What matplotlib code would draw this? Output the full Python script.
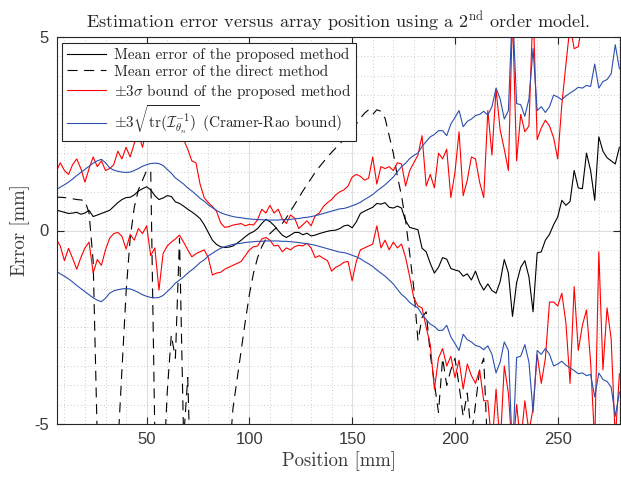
import numpy as np
import matplotlib.pyplot as plt
from matplotlib.ticker import MultipleLocator
from matplotlib import font_manager as fm

plt.rcParams["mathtext.fontset"] = "cm"
plt.rcParams["axes.unicode_minus"] = False
plt.rcParams["font.family"] = ["Liberation Sans", "DejaVu Sans"]

# sampling grid along the array [mm]
position = np.arange(6, 281, 2)

mean_proposed = [
    0.53, 0.50, 0.47, 0.44, 0.45, 0.47, 0.42, 0.45, 0.52, 0.36,
    0.40, 0.44, 0.48, 0.52, 0.62, 0.72, 0.80, 0.85, 0.86, 0.92,
    1.02, 1.08, 1.13, 1.05, 0.90, 0.80, 0.84, 0.90, 0.88, 0.74,
    0.70, 0.63, 0.55, 0.48, 0.40, 0.31, 0.15, -0.05, -0.25, -0.36,
    -0.42, -0.44, -0.43, -0.40, -0.33, -0.25, -0.16, -0.08, -0.03, 0.05,
    0.18, 0.29, 0.23, 0.13, 0.00, -0.12, -0.18, -0.12, -0.05, -0.05,
    -0.11, -0.07, -0.14, -0.12, -0.08, -0.05, -0.02, 0.00, 0.01, 0.05,
    0.12, 0.14, 0.07, 0.22, 0.44, 0.50, 0.55, 0.60, 0.70, 0.68,
    0.72, 0.60, 0.58, 0.63, 0.58, 0.25, 0.08, 0.05, 0.02, -0.46,
    -0.55, -0.85, -1.10, -0.95, -0.70, -0.74, -0.98, -1.02, -1.05, -1.18,
    -1.12, -1.28, -1.05, -1.35, -1.54, -1.38, -1.55, -1.62, -1.32, -0.75,
    -1.10, -2.22, -1.35, -0.95, -0.78, -1.20, -2.10, -0.58, -0.55, -0.25,
    -0.10, 0.15, 0.35, 0.78, 0.65, 0.75, 1.55, 1.10, 1.08, 2.00,
    1.55, 0.78, 2.42, 2.05, 1.88, 1.80, 1.72, 2.15,
]

mean_direct = [
    0.86, 0.86, 0.85, 0.84, 0.82, 0.80, 0.79, 0.77, 0.45, -0.80,
    -5.4, -7.5, -9.0, -9.5, -8.5, -5.6, -3.6, -1.6, -0.2, 0.6,
    1.05, 1.30, 1.55, 1.55, -5.3, -9.0, -6.5, -4.2, -2.7, -3.3,
    -0.2, -5.4, -3.8, -7.5, -9.0, -10.0, -11.0, -11.0, -11.0, -10.0,
    -9.0, -7.5, -6.0, -4.6, -3.85, -3.1, -2.35, -1.65, -1.1, -0.7,
    -0.42, -0.22, -0.08, 0.02, 0.10, 0.18, 0.33, 0.50, 0.67, 0.84,
    1.02, 1.18, 1.34, 1.50, 1.64, 1.77, 1.90, 2.02, 2.13, 2.24,
    2.35, 2.46, 2.60, 2.75, 2.90, 3.03, 3.12, 3.00, 3.12, 3.08,
    2.90, 2.45, 2.00, 1.40, 0.90, 0.25, -0.60, -1.50, -2.85, -2.25,
    -2.10, -3.20, -3.95, -4.70, -3.30, -4.00, -3.60, -3.30, -4.00, -4.80,
    -4.20, -5.30, -4.50, -3.60, -3.30, -5.80, -7.0, -8.1, -8.6, -9.2,
    -9.7, -10.4, -10.9, -11.3, -11.8, -12.5, -12.9, -13.4, -13.8, -14.5,
    -14.9, -15.6, -16.0, -16.4, -17.1, -17.5, -18.0, -18.6, -19.1, -19.5,
    -20.2, -20.6, -21.0, -21.7, -22.1, -22.6, -23.2, -23.7,
]

red_upper = [
    1.52, 1.75, 1.55, 1.45, 1.70, 1.85, 1.60, 1.25, 1.60, 1.90,
    1.65, 1.80, 1.55, 1.60, 1.70, 2.05, 1.85, 2.15, 1.90, 2.25,
    2.50, 2.15, 2.65, 3.10, 2.80, 3.40, 3.05, 3.60, 3.20, 2.75,
    2.95, 2.35, 2.10, 1.80, 1.75, 1.20, 0.85, 0.72, 0.62, 0.50,
    0.20, 0.08, 0.10, 0.14, 0.16, 0.18, 0.12, 0.16, 0.14, 0.28,
    0.55, 0.45, 0.65, 0.45, 0.55, 0.30, 0.18, 0.40, 0.32, 0.05,
    0.15, 0.25, 0.12, 0.38, 0.45, 0.62, 0.72, 0.80, 0.92, 1.00,
    1.05, 1.15, 1.38, 1.45, 1.40, 1.30, 1.35, 1.90, 1.20, 1.65,
    1.60, 1.65, 1.55, 1.75, 1.72, 1.15, 1.55, 1.75, 1.95, 2.45,
    1.15, 1.45, 1.10, 2.00, 1.85, 2.10, 0.85, 1.50, 2.55, 0.90,
    1.30, 1.90, 1.85, 1.25, 0.85, 3.10, 1.95, 3.65, 2.60, 2.10,
    1.55, 5.60, 1.80, 3.00, 2.55, 2.70, 5.80, 2.35, 2.65, 2.85,
    2.70, 2.40, 1.85, 3.25, 4.30, 5.30, 4.70, 4.75, 5.40, 5.80,
    5.50, 6.00, 5.60, 6.20, 5.80, 6.40, 6.00, 6.30,
]

red_lower = [
    -0.22, -0.40, -0.78, -0.46, -0.72, -1.00, -0.70, -0.45, -0.30, -1.10,
    -0.75, -0.90, -0.50, -0.20, -0.08, -0.05, -0.15, -0.48, -0.10, -0.25,
    0.05, -0.08, 0.12, -0.65, -0.45, -1.54, -0.60, -0.40, -0.30, -0.22,
    -0.12, -0.30, -0.50, -0.68, -0.60, -0.55, -0.50, -0.70, -1.15, -1.10,
    -1.08, -1.00, -0.95, -0.90, -0.85, -0.80, -0.65, -0.50, -0.42, -0.40,
    -0.22, -0.18, -0.25, -0.40, -0.38, -0.55, -0.45, -0.50, -0.42, -0.38,
    -0.40, -0.33, -0.45, -0.70, -0.65, -0.72, -0.78, -1.05, -0.95, -0.90,
    -0.82, -0.80, -1.30, -0.80, -0.50, -0.45, -0.40, -0.35, 0.12, -0.45,
    -0.25, -0.50, -0.30, -0.45, -0.35, -0.70, -1.20, -1.75, -1.95, -2.00,
    -2.50, -2.95, -4.10, -3.30, -3.05, -3.50, -3.25, -3.80, -3.35, -4.10,
    -3.45, -3.75, -3.95, -3.60, -4.40, -4.40, -5.60, -4.10, -5.60, -3.50,
    -4.20, -5.80, -4.50, -5.50, -4.40, -5.20, -4.60, -3.20, -3.95, -3.30,
    -1.85, -1.85, -1.95, -1.62, -2.40, -3.95, -1.45, -3.10, -2.45, -2.05,
    -3.40, -5.50, -0.55, -3.60, -2.00, -2.80, -5.40, -3.70,
]

# half-width of the Cramer-Rao band (plotted as +/-)
crb_bound = [
    1.05, 1.12, 1.18, 1.25, 1.33, 1.42, 1.50, 1.58, 1.66, 1.74,
    1.80, 1.84, 1.75, 1.62, 1.56, 1.53, 1.51, 1.50, 1.51, 1.55,
    1.60, 1.66, 1.70, 1.73, 1.74, 1.73, 1.68, 1.58, 1.48, 1.36,
    1.28, 1.20, 1.10, 1.02, 0.93, 0.83, 0.76, 0.66, 0.59, 0.52,
    0.46, 0.42, 0.39, 0.36, 0.34, 0.33, 0.31, 0.30, 0.29, 0.28,
    0.28, 0.27, 0.27, 0.27, 0.27, 0.28, 0.28, 0.29, 0.30, 0.31,
    0.33, 0.34, 0.36, 0.38, 0.41, 0.44, 0.47, 0.50, 0.53, 0.56,
    0.57, 0.60, 0.64, 0.68, 0.73, 0.80, 0.86, 0.93, 1.02, 1.10,
    1.18, 1.28, 1.38, 1.52, 1.65, 1.74, 1.86, 1.94, 2.00, 2.17,
    2.30, 2.42, 2.48, 2.58, 2.58, 2.45, 2.75, 2.92, 3.10, 2.68,
    2.82, 2.88, 2.97, 3.00, 3.08, 2.98, 3.20, 3.68, 3.40, 2.88,
    3.10, 5.80, 3.28, 3.25, 2.95, 3.40, 4.70, 3.10, 3.20, 3.05,
    3.20, 3.50, 3.45, 3.38, 3.48, 3.55, 3.62, 3.70, 3.68, 3.75,
    3.72, 4.30, 3.68, 3.85, 3.90, 4.05, 4.80, 4.18,
]

labels = [
    "Mean error of the proposed method",
    "Mean error of the direct method",
    r"$\pm3\sigma$ bound of the proposed method",
    r"$\pm3\sqrt{\mathrm{tr}(\mathcal{I}_{\theta_n}^{-1})}$ (Cramer-Rao bound)",
]

TXT = "#262626"
TICK = "#3a3a3a"
BLUE = "#2c4fb0"
serif = fm.FontProperties(family="cmr10", size=10.9)

fig = plt.figure(figsize=(6.21, 4.78), dpi=100)
ax = fig.add_axes([57 / 621, 1 - 424 / 478, 563 / 621, 387 / 478])

crb = np.asarray(crb_bound)
h1, = ax.plot(position, mean_proposed, color="black", lw=0.8)
h2, = ax.plot(position, mean_direct, color="black", lw=0.8, ls=(0, (9, 6)))
h3, = ax.plot(position, red_upper, color="red", lw=0.8)
ax.plot(position, red_lower, color="red", lw=0.8)
h4, = ax.plot(position, crb, color=BLUE, lw=0.8)
ax.plot(position, -crb, color=BLUE, lw=0.8)

ax.set_xlim(6.4, 280.3)
ax.set_ylim(-5, 5)
ax.set_xticks([50, 100, 150, 200, 250])
ax.set_yticks([-5, 0, 5])
ax.xaxis.set_minor_locator(MultipleLocator(10))
ax.yaxis.set_minor_locator(MultipleLocator(0.5))
ax.tick_params(which="major", direction="in", top=True, right=True, length=5,
               width=0.8, color=TXT, labelcolor=TICK, labelsize=12, pad=6)
ax.tick_params(which="minor", length=0)
ax.set_axisbelow(True)
ax.grid(True, which="major", color="#dedede", lw=0.8, ls="-")
ax.grid(True, which="minor", color="#bcbcbc", lw=0.6, ls=(0, (1, 3)))
for s in ax.spines.values():
    s.set_color(TXT)
    s.set_linewidth(0.8)

ax.set_title(r"Estimation error versus array position using a $2^{\rm nd}$ order model.",
             fontfamily="cmr10", fontsize=13.1, color=TXT, pad=6)
ax.set_xlabel("Position [mm]", fontfamily="cmr10", fontsize=13.5, color=TICK, labelpad=3)
ax.set_ylabel("Error [mm]", fontfamily="cmr10", fontsize=13.5, color=TICK, labelpad=3)

leg = ax.legend([h1, h2, h3, h4], labels, loc="upper left",
                bbox_to_anchor=(0.009, 0.984), borderaxespad=0, prop=serif,
                frameon=True, fancybox=False, framealpha=1, edgecolor=TXT,
                handlelength=2.6, handletextpad=0.5, borderpad=0.3,
                labelspacing=0.2)
leg.get_frame().set_linewidth(0.8)
for t in leg.get_texts():
    t.set_color(TXT)

fig.savefig("out.png", dpi=100)
